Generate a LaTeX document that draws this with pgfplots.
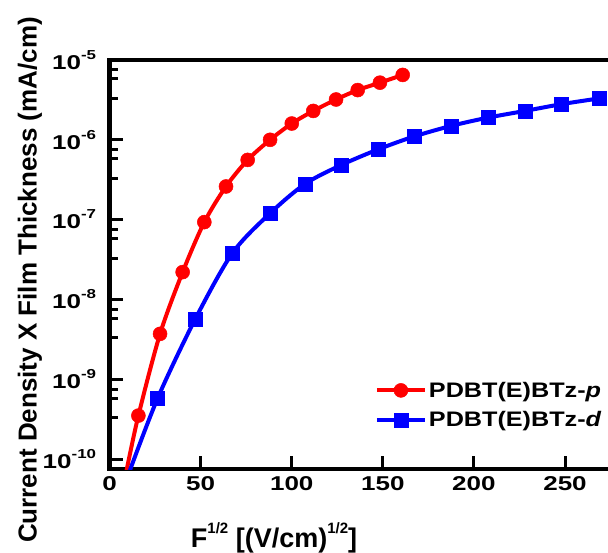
\documentclass[border=0pt]{standalone}
\usepackage{fontspec}
\setmainfont{Liberation Sans}
\newfontfamily\tickfont{Liberation Sans}[FakeStretch=1.3]
\newfontfamily\legfont{Liberation Sans}[FakeStretch=1.2]
\usepackage{pgfplots}
\pgfplotsset{compat=1.18}
\definecolor{pred}{RGB}{255,0,0}
\definecolor{pblue}{RGB}{0,0,255}
\newcommand\ytl[1]{10\raisebox{0.5em}{\fontsize{13}{13}\selectfont #1}}
\begin{document}
\begin{tikzpicture}
\begin{axis}[
  scale only axis, width=498.4pt, height=409pt,
  ymode=log, xmin=0, xmax=273.6, ymin=7.5e-11, ymax=1e-5,
  separate axis lines, axis x line=box, axis y line*=left,
  axis line style={line width=4.5pt, line cap=rect},
  xtick={0,50,...,250}, xtick pos=left,
  ytick={1e-10,1e-9,1e-8,1e-7,1e-6,1e-5},
  yticklabels={\ytl{-10},\ytl{-9},\ytl{-8},\ytl{-7},\ytl{-6},\ytl{-5}},
  minor ytick={3.3e-10,5.8e-10,7.5e-10,3.3e-9,5.8e-9,7.5e-9,3.3e-8,5.8e-8,7.5e-8,
    3.3e-7,5.8e-7,7.5e-7,3.3e-6,5.8e-6,7.5e-6},
  tick align=inside, major tick length=13pt, minor tick length=8pt,
  every tick/.style={black, line width=3pt},
  /pgf/number format/assume math mode=true,
  xticklabel style={font=\tickfont\bfseries\fontsize{20}{20}\selectfont, yshift=-4pt},
  yticklabel style={font=\tickfont\bfseries\fontsize{20}{20}\selectfont, xshift=-10pt},
  xlabel={F\raisebox{0.5em}{\fontsize{15}{15}\selectfont 1/2} [(V/cm)\raisebox{0.5em}{\fontsize{15}{15}\selectfont 1/2}]},
  xlabel style={font=\bfseries\fontsize{27}{27}\selectfont, at={(axis description cs:0.33,-0.1687)}, anchor=center},
  ylabel={Current Density X Film Thickness (mA/cm)},
  ylabel style={font=\bfseries\fontsize{26}{26}\selectfont, at={(axis description cs:-0.16,0.462)}, anchor=center, rotate=0},
  legend style={draw=none, fill=none, at={(axis description cs:0.532,0.218)}, anchor=north west,
    font=\legfont\bfseries\fontsize{21}{21}\selectfont, row sep=9pt, inner sep=0pt,
    /tikz/every odd column/.style={xshift=-2pt}},
  legend cell align=left,
  legend image code/.code={
    \draw[#1, mark=none] (0pt,0pt) -- (48pt,0pt);
    \draw[#1] plot coordinates {(24pt,0pt)};},
]
\addplot[pred, line width=4pt, smooth, mark=*, mark size=7pt, mark indices={1,...,13},
  mark options={line width=0.5pt}] coordinates {
  (8.8,6.3e-11) (15.8,3.5e-10) (27.7,3.7e-9) (40.1,2.2e-8) (52.0,9.3e-8) (63.9,2.6e-7)
  (75.8,5.6e-7) (88.1,1.0e-6) (100.0,1.6e-6) (111.8,2.3e-6) (124.3,3.2e-6)
  (136.2,4.2e-6) (148.4,5.2e-6) (160.9,6.5e-6)
};
\addlegendentry{PDBT(E)BTz-\textit{p}}
\addplot[pblue, line width=4pt, smooth, mark=square*, mark size=7pt, mark indices={1,...,13},
  mark options={line width=0.5pt}] coordinates {
  (10.2,6.3e-11) (26.4,5.8e-10) (46.9,5.6e-9) (67.4,3.8e-8) (88.1,1.2e-7) (107.3,2.8e-7)
  (126.9,4.8e-7) (147.5,7.6e-7) (167.1,1.1e-6) (187.8,1.5e-6) (207.9,1.9e-6)
  (228.0,2.3e-6) (248.2,2.8e-6) (268.7,3.3e-6)
};
\addlegendentry{PDBT(E)BTz-\textit{d}}
\end{axis}
\pgfresetboundingbox
\path (-109.6pt,-84pt) rectangle (498.4pt,469pt);
\end{tikzpicture}
\end{document}
